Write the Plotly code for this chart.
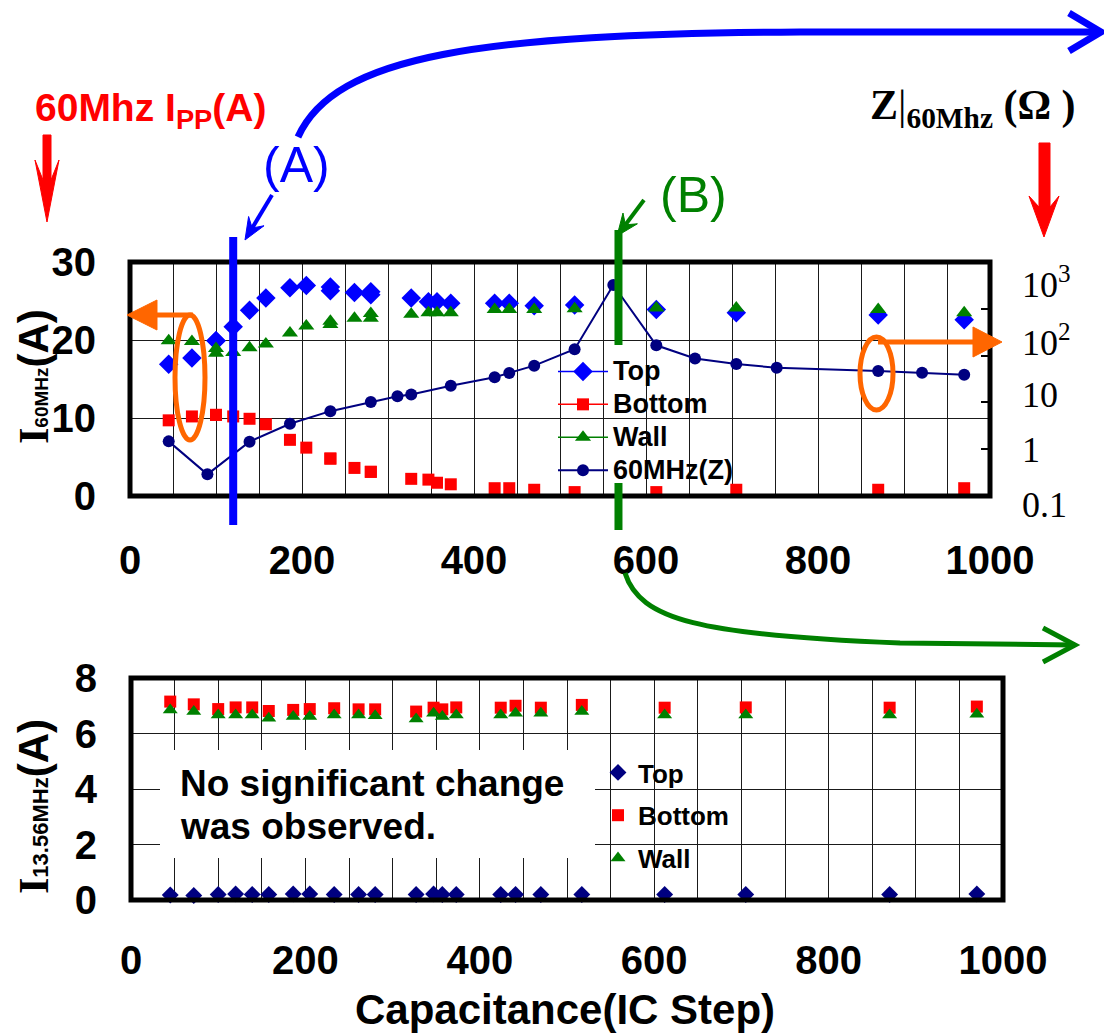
import plotly.graph_objects as go

W, H = 1104, 1035

# ---------------- data ----------------
# Upper panel: 60 MHz peak-to-peak current vs IC capacitor step (repeated steps = repeat runs)
steps_60 = [45, 72, 100, 100, 120, 139, 158, 186, 205, 233, 233, 261, 280, 280,
            327, 347, 357, 373, 424, 441, 470, 517, 612, 705, 870, 970]
top_60 = [16.9, 17.7, 19.9, 19.9, 21.7, 23.8, 25.4, 26.7, 27.0, 26.8, 26.3, 26.1, 26.2, 25.8,
          25.4, 24.9, 24.9, 24.7, 24.7, 24.7, 24.4, 24.5, 23.9, 23.5, 23.2, 22.6]
bottom_60 = [9.7, 10.2, 10.4, 10.4, 10.2, 9.9, 9.2, 7.2, 6.2, 4.8, 4.8, 3.6, 3.1, 3.1,
             2.2, 2.1, 1.7, 1.5, 1.0, 1.0, 0.8, 0.5, 0.5, 0.8, 0.8, 1.0]
wall_60 = [19.9, 19.8, 18.9, 18.3, 18.4, 19.0, 19.5, 20.9, 21.8, 22.4, 22.0, 22.8, 23.4, 22.8,
           23.3, 23.5, 23.5, 23.5, 23.9, 23.9, 23.9, 24.0, 24.1, 24.1, 23.9, 23.5]

# 60 MHz impedance |Z| (ohm), right log axis
steps_z = [45, 90, 139, 186, 233, 280, 311, 327, 373, 424, 441, 470, 517, 562, 612, 657,
           705, 752, 870, 921, 970]
z_60 = [1.47, 0.29, 1.45, 3.5, 6.5, 10.2, 13.5, 14.7, 22.7, 34.5, 42.5, 61, 137, 3220, 166, 87,
        66, 55, 47, 43, 39]

# Lower panel: 13.56 MHz current
steps_13 = [45, 72, 100, 120, 139, 158, 186, 205, 233, 261, 280, 327, 347, 357, 373, 424,
            441, 470, 517, 612, 705, 870, 970]
top_13 = [0.18, 0.16, 0.2, 0.22, 0.2, 0.2, 0.22, 0.22, 0.2, 0.2, 0.2, 0.2, 0.22, 0.2, 0.2,
          0.2, 0.2, 0.2, 0.2, 0.2, 0.2, 0.2, 0.22]
bottom_13 = [7.15, 7.05, 6.88, 6.94, 6.94, 6.81, 6.85, 6.88, 6.91, 6.87, 6.87, 6.79, 6.93,
             6.87, 6.94, 6.93, 7.0, 6.93, 7.03, 6.93, 6.94, 6.93, 6.97]
wall_13 = [6.85, 6.79, 6.67, 6.67, 6.67, 6.55, 6.61, 6.61, 6.67, 6.67, 6.64, 6.52, 6.73,
           6.61, 6.67, 6.67, 6.73, 6.73, 6.79, 6.67, 6.67, 6.67, 6.69]

x_ticks = [0, 200, 400, 600, 800, 1000]
i60_ticks = [0, 10, 20, 30]
i13_ticks = [0, 2, 4, 6, 8]
z_ticks = [0.1, 1, 10, 100, 1000]
z_tick_labels = ["0.1", "1", "10", "10<sup>2</sup>", "10<sup>3</sup>"]

step_A = 120   # marked capacitor setting (A)
step_B = 568   # marked capacitor setting (B)

# ---------------- style ----------------
SANS = "Liberation Sans, Arial, sans-serif"
SERIF = "Liberation Serif, Times New Roman, serif"
BLUE, RED, GREEN, NAVY, ORANGE = "#0000ff", "#ff0000", "#008000", "#000080", "#ff6600"
GRID = "#1a1a1a"


def fx(x):
    return x / W


def fy(y):
    return 1 - y / H


def pt(x, y):
    return f"{fx(x):.5f},{fy(y):.5f}"


def poly(points):
    return "M" + " L".join(pt(x, y) for x, y in points) + " Z"


def barbed_head(start, tip, length, half_w, notch):
    """Filled barbed arrowhead polygon and the point where the shaft should stop."""
    (x0, y0), (x1, y1) = start, tip
    dx, dy = x1 - x0, y1 - y0
    n = (dx * dx + dy * dy) ** 0.5
    ux, uy = dx / n, dy / n
    px_, py_ = -uy, ux
    bx, by = x1 - length * ux, y1 - length * uy
    nx, ny = x1 - notch * ux, y1 - notch * uy
    pts = [(x1, y1), (bx + half_w * px_, by + half_w * py_), (nx, ny),
           (bx - half_w * px_, by - half_w * py_)]
    return poly(pts), (nx, ny)


def big(label):
    # legend entry text drawn larger than the row pitch set by the legend font
    return f"<span style='font-size:27px'>{label}</span>"


fig = go.Figure()

# legend keys of the upper panel (line + marker)
for name, color, sym, size in [("Top", BLUE, "diamond", 15), ("Bottom", RED, "square", 12),
                               ("Wall", GREEN, "triangle-up", 14)]:
    fig.add_trace(go.Scatter(x=[None], y=[None], mode="lines+markers", name=big(name),
                             line=dict(color=color, width=1.5),
                             marker=dict(symbol=sym, color=color, size=size),
                             xaxis="x", yaxis="y", legend="legend"))

fig.add_trace(go.Scatter(x=steps_60, y=top_60, mode="markers", showlegend=False,
                         marker=dict(symbol="diamond", color=BLUE, size=15),
                         xaxis="x", yaxis="y", cliponaxis=False))
fig.add_trace(go.Scatter(x=steps_60, y=bottom_60, mode="markers", showlegend=False,
                         marker=dict(symbol="square", color=RED, size=12),
                         xaxis="x", yaxis="y", cliponaxis=False))
fig.add_trace(go.Scatter(x=steps_60, y=wall_60, mode="markers", showlegend=False,
                         marker=dict(symbol="triangle-up", color=GREEN, size=14),
                         xaxis="x", yaxis="y", cliponaxis=False))
fig.add_trace(go.Scatter(x=steps_z, y=z_60, mode="lines+markers", name=big("60MHz(Z)"),
                         line=dict(color=NAVY, width=2),
                         marker=dict(symbol="circle", color=NAVY, size=12),
                         xaxis="x", yaxis="y2", legend="legend", cliponaxis=False))

# lower panel
fig.add_trace(go.Scatter(x=steps_13, y=top_13, mode="markers", name="Top", legendgroup="t",
                         marker=dict(symbol="diamond", color=NAVY, size=13),
                         xaxis="x2", yaxis="y3", legend="legend2", cliponaxis=False))
fig.add_trace(go.Scatter(x=steps_13, y=bottom_13, mode="markers", name="Bottom", legendgroup="b",
                         marker=dict(symbol="square", color=RED, size=12),
                         xaxis="x2", yaxis="y3", legend="legend2", cliponaxis=False))
fig.add_trace(go.Scatter(x=steps_13, y=wall_13, mode="markers", name="Wall", legendgroup="w",
                         marker=dict(symbol="triangle-up", color=GREEN, size=13),
                         xaxis="x2", yaxis="y3", legend="legend2", cliponaxis=False))

tick_font = dict(family=SANS, size=40, color="black", weight="bold")
grid = dict(showgrid=True, gridcolor=GRID, gridwidth=1, zeroline=False, showline=False,
            ticks="", automargin=False)
minor_grid = dict(tickmode="linear", tick0=0, dtick=50, showgrid=True, gridcolor=GRID,
                  gridwidth=1, ticks="")

shapes = []
# panel frames
for xr, yr in [("x domain", "y domain"), ("x2 domain", "y3 domain")]:
    shapes.append(dict(type="rect", xref=xr, yref=yr, x0=0, x1=1, y0=0, y1=1,
                       line=dict(color="black", width=5), layer="above"))

# white box behind the lower-panel note
shapes.append(dict(type="rect", xref="paper", yref="paper", x0=fx(160), x1=fx(595),
                   y0=fy(858), y1=fy(750), fillcolor="white", line=dict(width=0), layer="above"))

# markers (A) and (B)
shapes.append(dict(type="line", xref="x", yref="paper", x0=step_A, x1=step_A,
                   y0=fy(525), y1=fy(237), line=dict(color=BLUE, width=8), layer="above"))
for y_a, y_b in [(230, 345), (483, 530)]:
    shapes.append(dict(type="line", xref="x", yref="paper", x0=step_B, x1=step_B,
                       y0=fy(y_b), y1=fy(y_a), line=dict(color=GREEN, width=8), layer="above"))

# short pointer arrows from the (A)/(B) labels
for start, tip, col in [((272, 195), (245, 240), BLUE), ((644, 200), (617, 236), GREEN)]:
    head, stop = barbed_head(start, tip, 22, 9, 14)
    shapes.append(dict(type="path", xref="paper", yref="paper",
                       path="M" + pt(*start) + " L" + pt(*stop),
                       line=dict(color=col, width=4), layer="above"))
    shapes.append(dict(type="path", xref="paper", yref="paper", path=head,
                       fillcolor=col, line=dict(color=col, width=1), layer="above"))

# long curved arrows with open heads
shapes.append(dict(type="path", xref="paper", yref="paper",
                   path="M" + pt(298, 137) + " C" + pt(335, 55) + " " + pt(480, 34) + " "
                        + pt(800, 32) + " L" + pt(1100, 32),
                   line=dict(color=BLUE, width=7), layer="above"))
shapes.append(dict(type="path", xref="paper", yref="paper",
                   path="M" + pt(1069, 13) + " L" + pt(1101, 32) + " L" + pt(1069, 51),
                   line=dict(color=BLUE, width=7), layer="above"))
shapes.append(dict(type="path", xref="paper", yref="paper",
                   path="M" + pt(625, 573) + " C" + pt(640, 620) + " " + pt(700, 635) + " "
                        + pt(900, 643) + " L" + pt(1074, 645),
                   line=dict(color=GREEN, width=5), layer="above"))
shapes.append(dict(type="path", xref="paper", yref="paper",
                   path="M" + pt(1043, 628) + " L" + pt(1075, 645) + " L" + pt(1043, 662),
                   line=dict(color=GREEN, width=5), layer="above"))

# red down arrows pointing at the two y axes
shapes.append(dict(type="path", xref="paper", yref="paper",
                   path=poly([(43, 135), (51, 135), (51, 180), (59, 160), (47, 222),
                              (35, 160), (43, 180)]),
                   fillcolor=RED, line=dict(color=RED, width=1), layer="above"))
shapes.append(dict(type="path", xref="paper", yref="paper",
                   path=poly([(1039, 143), (1050, 143), (1050, 207), (1059, 196), (1044, 237),
                              (1029, 196), (1039, 207)]),
                   fillcolor=RED, line=dict(color=RED, width=1), layer="above"))

# orange ellipses with arrows to the matching axes
for x0, x1, y0, y1 in [(175, 205, 315, 440), (860, 893, 337, 410)]:
    shapes.append(dict(type="circle", xref="paper", yref="paper", x0=fx(x0), x1=fx(x1),
                       y0=fy(y1), y1=fy(y0), line=dict(color=ORANGE, width=5), layer="above"))
shapes.append(dict(type="path", xref="paper", yref="paper",
                   path="M" + pt(193, 315) + " L" + pt(155, 315),
                   line=dict(color=ORANGE, width=5), layer="above"))
shapes.append(dict(type="path", xref="paper", yref="paper",
                   path=poly([(157, 300), (127, 315), (157, 330)]),
                   fillcolor=ORANGE, line=dict(color=ORANGE, width=1), layer="above"))
shapes.append(dict(type="path", xref="paper", yref="paper",
                   path="M" + pt(878, 342) + " L" + pt(975, 342),
                   line=dict(color=ORANGE, width=5), layer="above"))
shapes.append(dict(type="path", xref="paper", yref="paper",
                   path=poly([(973, 327), (1002, 342), (973, 357)]),
                   fillcolor=ORANGE, line=dict(color=ORANGE, width=1), layer="above"))

annotations = []


def note(text, x, y, size, color="black", family=SANS, weight="bold", xanchor="left",
         yanchor="middle", angle=0, align="left"):
    annotations.append(dict(text=text, xref="paper", yref="paper", x=fx(x), y=fy(y),
                            xanchor=xanchor, yanchor=yanchor, showarrow=False,
                            textangle=angle, align=align,
                            font=dict(family=family, size=size, color=color, weight=weight)))


note("60Mhz I<sub>PP</sub>(A)", 33, 110, 39, color=RED)
note("(A)", 297, 165, 50, color=BLUE, weight="normal", xanchor="center")
note("(B)", 693, 195, 50, color=GREEN, weight="normal", xanchor="center")
note("Z<span style='font-weight:normal'>|</span><sub>60Mhz</sub> (Ω )", 868, 108, 42,
     family=SERIF)

# right log-axis labels
z_label_y = [505, 450, 395, 340, 283]
for lab, yy in zip(z_tick_labels, z_label_y):
    note(lab, 1020, yy, 36, family=SERIF, weight="normal")

note("<span style=\"font-family:Liberation Serif\">I</span>"
     "<span style=\"font-size:19px\">60MHz</span>(A)", 33, 377, 42, angle=-90,
     xanchor="center")
note("<span style=\"font-family:Liberation Serif\">I</span>"
     "<span style=\"font-size:22px\">13.56MHz</span>(A)", 33, 807, 42, angle=-90,
     xanchor="center")
note("Capacitance(IC Step)", 565, 1009, 42, xanchor="center")
# two-line note of the lower panel
note("No significant change", 178, 783, 37)
note("was observed.", 178, 826, 37)

fig.update_layout(
    width=W, height=H, margin=dict(l=0, r=0, t=0, b=0, autoexpand=False),
    paper_bgcolor="white", plot_bgcolor="white",
    xaxis=dict(domain=[fx(130), fx(990)], anchor="y", range=[0, 1000], tickvals=x_ticks,
               tickfont=tick_font, ticklabelstandoff=37, minor=minor_grid, **grid),
    yaxis=dict(domain=[fy(496), fy(262)], anchor="x", range=[0, 30], tickvals=i60_ticks,
               tickfont=tick_font, ticklabelstandoff=33, **grid),
    yaxis2=dict(overlaying="y", side="right", anchor="x", type="log", range=[-1, 4],
                tickvals=z_ticks, showticklabels=False, ticks="inside", ticklen=9,
                tickwidth=1.5, tickcolor="black", showgrid=False, zeroline=False,
                showline=False, automargin=False),
    xaxis2=dict(domain=[fx(131), fx(1003)], anchor="y3", range=[0, 1000], tickvals=x_ticks,
                tickfont=tick_font, ticklabelstandoff=33, minor=minor_grid, **grid),
    yaxis3=dict(domain=[fy(900), fy(678)], anchor="x2", range=[0, 8], tickvals=i13_ticks,
                tickfont=tick_font, ticklabelstandoff=33, **grid),
    legend=dict(x=fx(553), y=fy(350), xanchor="left", yanchor="top",
                bgcolor="rgba(0,0,0,0)", borderwidth=0, itemwidth=50, tracegroupgap=0,
                font=dict(family=SANS, size=23, color="black", weight="bold")),
    legend2=dict(x=fx(598), y=fy(749), xanchor="left", yanchor="top",
                 bgcolor="rgba(0,0,0,0)", borderwidth=0, itemwidth=30, tracegroupgap=6,
                 font=dict(family=SANS, size=26, color="black", weight="bold")),
    shapes=shapes, annotations=annotations,
)

fig.write_html("out.html")
